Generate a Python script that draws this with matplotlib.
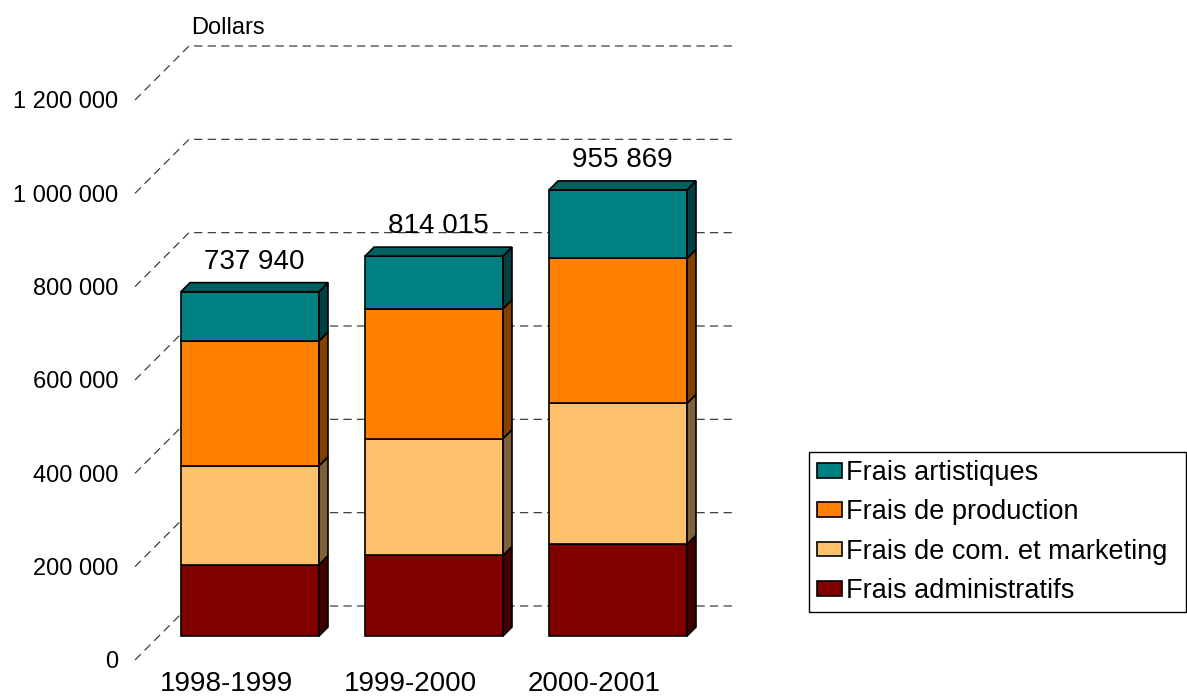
import matplotlib
matplotlib.use("Agg")
import matplotlib.pyplot as plt
from matplotlib.patches import Polygon

plt.rcParams['font.family'] = ['Liberation Sans', 'DejaVu Sans']

# data (dollars)
years = ['1998-1999', '1999-2000', '2000-2001']
admin = [153000, 172600, 196400]
com = [211500, 250400, 302100]
prod = [267800, 278300, 310700]
art = [105640, 112715, 146669]

names = ['Frais administratifs', 'Frais de com. et marketing',
         'Frais de production', 'Frais artistiques']
face = ['#800000', '#FFC06B', '#FF8000', '#008080']
side = ['#400000', '#80603A', '#804000', '#004040']
top_col = '#006060'

W, H = 1187, 696
fig = plt.figure(figsize=(W / 100, H / 100), dpi=100)
ax = fig.add_axes([135 / W, 36 / H, 546 / W, 560 / H])
ax.set_xlim(-91 / 184, 455 / 184)
ax.set_ylim(0, 1200000)


def shift(px):
    # pixel offset -> data offset (x, y)
    return px / 184, px * 1200000 / 560


wall_x, wall_y = shift(54)
front_x, front_y = shift(24)
deep_x, deep_y = shift(9)
_, lift = shift(1)

# back wall gridlines + diagonals
levels = list(range(0, 1200001, 200000))
x0, x1 = ax.get_xlim()
for v in levels:
    ax.plot([x0, x0 + wall_x, x1 + wall_x], [v, v + wall_y, v + wall_y],
            ls=(0, (7, 4.5)), lw=0.85, color='#333333', clip_on=False, zorder=1)

# 3d-ish stacked bars
xs = [i + front_x for i in range(len(years))]
half = 0.375
bottom = [front_y] * len(years)
handles = []
for name, vals, f, s in zip(names, [admin, com, prod, art], face, side):
    bars = ax.bar(xs, vals, width=2 * half, bottom=bottom, color=f,
                  edgecolor='black', lw=1.2, zorder=3, clip_on=False, label=name)
    handles.append(bars)
    for x, b, v in zip(xs, bottom, vals):
        xr = x + half
        ax.add_patch(Polygon([(xr, b), (xr + deep_x, b + deep_y),
                              (xr + deep_x, b + v + deep_y), (xr, b + v)],
                             fc=s, ec='black', lw=1.2, zorder=3, clip_on=False))
    bottom = [b + v for b, v in zip(bottom, vals)]

totals = [a + b + c + d for a, b, c, d in zip(admin, com, prod, art)]
for x, b, tot in zip(xs, bottom, totals):
    ax.add_patch(Polygon([(x - half, b), (x + half, b),
                          (x + half + deep_x, b + deep_y),
                          (x - half + deep_x, b + deep_y)],
                         fc=top_col, ec='black', lw=1.2, zorder=3, clip_on=False))
    ax.text(x + deep_x / 2, b + deep_y + 21 * lift,
            f"{tot:,}".replace(",", " "), ha='center', va='center', fontsize=20)

ax.text(x0 + wall_x + 2 / 184, 1200000 + wall_y + 18 * lift, 'Dollars',
        ha='left', va='center', fontsize=17)

ax.set_yticks(levels, labels=[f"{v:,}".replace(",", " ") for v in levels])
ax.set_xticks(range(len(years)), labels=years)
ax.tick_params(axis='y', length=0, pad=12, labelsize=17)
ax.tick_params(axis='x', length=0, pad=8, labelsize=20)
for sp in ax.spines.values():
    sp.set_visible(False)
ax.patch.set_visible(False)

leg = fig.legend(handles=handles[::-1], loc='upper left',
                 bbox_to_anchor=(809 / W, 84 / H, 377 / W, 160 / H),
                 mode='expand', fontsize=19.5, frameon=True, fancybox=False,
                 edgecolor='black', framealpha=1, handlelength=0.93,
                 handleheight=0.45, handletextpad=0.15, borderpad=0.3,
                 labelspacing=0.49, borderaxespad=0)
leg.get_frame().set_linewidth(1)

fig.savefig('out.png', dpi=100)
